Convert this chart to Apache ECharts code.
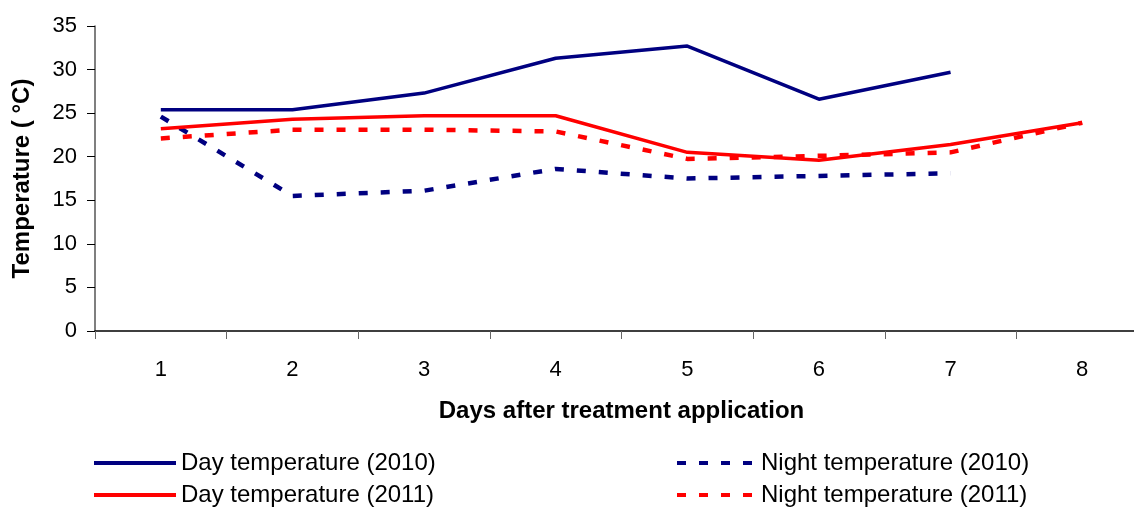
<!DOCTYPE html>
<html>
<head>
<meta charset="utf-8">
<script src="https://cdn.jsdelivr.net/npm/echarts@6/dist/echarts.min.js"></script>
<style>
  html, body { margin: 0; padding: 0; background: #fff; }
  #chart { width: 1134px; height: 508px; }
</style>
</head>
<body>
<div id="chart"></div>
<script>
// 横轴：处理后天数
const days = ['1', '2', '3', '4', '5', '6', '7', '8'];
// 各序列温度 (°C)
const day2010 = [25.4, 25.4, 27.3, 31.3, 32.7, 26.6, 29.7, null];
const night2010 = [24.6, 15.5, 16.1, 18.6, 17.5, 17.8, 18.1, null];
const day2011 = [23.2, 24.3, 24.7, 24.7, 20.5, 19.6, 21.4, 23.9];
const night2011 = [22.1, 23.1, 23.1, 22.9, 19.75, 20.1, 20.5, 23.9];
// y 轴刻度
const yTicks = [0, 5, 10, 15, 20, 25, 30, 35];

const font = 'Liberation Sans, Arial, sans-serif';
const navy = '#000080';
const red = '#ff0000';

let myChart = echarts.init(document.getElementById('chart'));

const line = (name, data, color, dashed) => ({
  name: name,
  type: 'line',
  data: data,
  symbol: 'none',
  connectNulls: false,
  lineStyle: {
    color: color,
    width: dashed ? 4.5 : 3.5,
    type: dashed ? [9, 13] : 'solid'
  },
  itemStyle: { color: color }
});

// 图例：每项单独放置，两列两行
const legendItem = (name, left, top, width) => ({
  orient: 'horizontal',
  left: left,
  top: top,
  padding: 0,
  itemWidth: width,
  itemHeight: 14,
  itemGap: 0,
  itemStyle: { opacity: 0 },
  lineStyle: { width: 4 },
  textStyle: { fontFamily: font, fontSize: 24, color: '#000' },
  data: [name]
});

const nameStyle = { fontFamily: font, fontSize: 24, fontWeight: 'bold', color: '#000' };

myChart.setOption({
  animation: false,
  grid: { left: 95, top: 26, width: 1053, height: 305, outerBoundsMode: 'none', containLabel: false },
  legend: [
    legendItem('Day temperature (2010)', 92, 451, 82),
    legendItem('Day temperature (2011)', 92, 483, 82),
    legendItem('Night temperature (2010)', 675, 451, 79),
    legendItem('Night temperature (2011)', 675, 483, 79)
  ],
  xAxis: {
    type: 'category',
    data: days,
    boundaryGap: true,
    name: 'Days after treatment application',
    nameLocation: 'middle',
    nameGap: 68,
    nameTextStyle: nameStyle,
    axisLine: { lineStyle: { color: '#000', width: 1.5 } },
    axisTick: { show: true, length: 8, lineStyle: { color: '#666' } },
    axisLabel: { fontFamily: font, fontSize: 22, color: '#000', margin: 28 }
  },
  yAxis: {
    type: 'value',
    min: yTicks[0],
    max: yTicks[yTicks.length - 1],
    interval: 5,
    name: 'Temperature ( °C)',
    nameLocation: 'middle',
    nameGap: 61,
    nameRotate: 90,
    nameTextStyle: nameStyle,
    axisLine: { show: true, lineStyle: { color: '#555', width: 1.5 } },
    axisTick: { show: true, length: 8, lineStyle: { color: '#000' } },
    splitLine: { show: false },
    axisLabel: { fontFamily: font, fontSize: 22, color: '#000', margin: 18 }
  },
  series: [
    line('Day temperature (2010)', day2010, navy, false),
    line('Night temperature (2010)', night2010, navy, true),
    line('Day temperature (2011)', day2011, red, false),
    line('Night temperature (2011)', night2011, red, true)
  ]
});
</script>
</body>
</html>
